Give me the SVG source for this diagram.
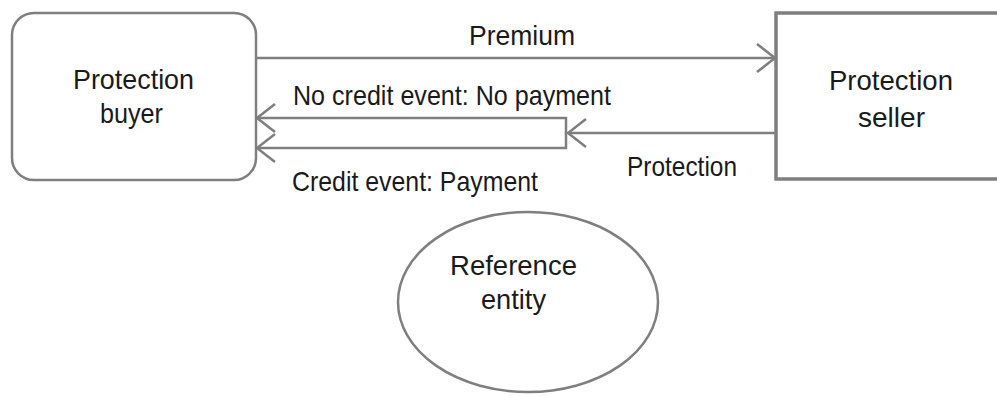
<svg xmlns="http://www.w3.org/2000/svg" width="997" height="396" viewBox="0 0 997 396">
<style>
  .node { fill: #ffffff; stroke: #7f7f7f; stroke-width: 2.5; }
  .seller { stroke-width: 3.5; }
  .conn { fill: none; stroke: #7f7f7f; stroke-width: 2.5; }
  text { font-family: "Liberation Sans", Arial, sans-serif; font-size: 28px; fill: #1a1a1a; }
  .c { text-anchor: middle; }
</style>
<defs>
  <marker id="open" viewBox="0 0 22 32" refX="20" refY="16" markerWidth="22" markerHeight="32" markerUnits="userSpaceOnUse" orient="auto">
    <path d="M2,2 L20,16 L2,30" fill="none" stroke="#7f7f7f" stroke-width="2.5"/>
  </marker>
</defs>
<rect width="997" height="396" fill="#ffffff"/>
<g id="buyer">
  <rect class="node" x="12" y="13" width="244" height="167" rx="22" ry="22"/>
  <text x="73" y="89" textLength="121" lengthAdjust="spacingAndGlyphs">Protection</text>
  <text x="100" y="123" textLength="63" lengthAdjust="spacingAndGlyphs">buyer</text>
</g>
<g id="seller">
  <rect class="node seller" x="776" y="13" width="240" height="166"/>
  <text x="829" y="90" textLength="124" lengthAdjust="spacingAndGlyphs">Protection</text>
  <text x="858" y="127" textLength="67" lengthAdjust="spacingAndGlyphs">seller</text>
</g>
<g id="reference">
  <ellipse class="node" cx="528" cy="302" rx="130" ry="90"/>
  <text x="450" y="275" textLength="127" lengthAdjust="spacingAndGlyphs">Reference</text>
  <text x="481" y="309" textLength="65" lengthAdjust="spacingAndGlyphs">entity</text>
</g>
<g id="connectors">
  <path class="conn" d="M256,58 H775" marker-end="url(#open)"/>
  <path class="conn" d="M776,133 H568" marker-end="url(#open)"/>
  <path class="conn" d="M566,133 V118 H257" marker-end="url(#open)"/>
  <path class="conn" d="M566,132 V148 H257" marker-end="url(#open)"/>
  <text x="469" y="45" textLength="106" lengthAdjust="spacingAndGlyphs">Premium</text>
  <text x="293" y="105" textLength="318" lengthAdjust="spacingAndGlyphs">No credit event: No payment</text>
  <text x="292" y="191" textLength="246" lengthAdjust="spacingAndGlyphs">Credit event: Payment</text>
  <text x="627" y="176" textLength="110" lengthAdjust="spacingAndGlyphs">Protection</text>
</g>
</svg>
